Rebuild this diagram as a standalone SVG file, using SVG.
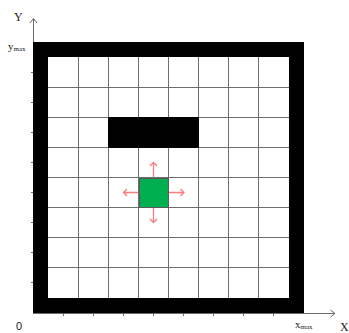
<svg xmlns="http://www.w3.org/2000/svg" width="349" height="333" viewBox="0 0 349 333">
<defs>
<style>
.grid{stroke:#6e6e6e;stroke-width:1;fill:none}
.axis{stroke:#6a6a6a;stroke-width:1;fill:none}
.tick{stroke:#6a6a6a;stroke-width:1}
.mv{stroke:#ff7b7b;stroke-width:1.3;fill:none}
.lbl{font-family:"Liberation Serif",serif;fill:#222}
</style>
</defs>
<rect width="349" height="333" fill="#fff"/>
<g id="axes">
<line class="axis" x1="33.5" y1="313" x2="33.5" y2="18.5"/>
<polyline class="axis" points="30,23 33.5,18.5 37,23"/>
<line class="axis" x1="33" y1="313.5" x2="335" y2="313.5"/>
<polyline class="axis" points="330.5,310 335,313.5 330.5,317"/>
<g class="tick">
<line x1="63.5" y1="313" x2="63.5" y2="316"/><line x1="93.5" y1="313" x2="93.5" y2="316"/>
<line x1="123.5" y1="313" x2="123.5" y2="316"/><line x1="153.5" y1="313" x2="153.5" y2="316"/>
<line x1="183.5" y1="313" x2="183.5" y2="316"/><line x1="213.5" y1="313" x2="213.5" y2="316"/>
<line x1="243.5" y1="313" x2="243.5" y2="316"/><line x1="273.5" y1="313" x2="273.5" y2="316"/>
<line x1="31" y1="72.5" x2="34" y2="72.5"/><line x1="31" y1="102.5" x2="34" y2="102.5"/>
<line x1="31" y1="132.5" x2="34" y2="132.5"/><line x1="31" y1="162.5" x2="34" y2="162.5"/>
<line x1="31" y1="192.5" x2="34" y2="192.5"/><line x1="31" y1="222.5" x2="34" y2="222.5"/>
<line x1="31" y1="252.5" x2="34" y2="252.5"/><line x1="31" y1="282.5" x2="34" y2="282.5"/>
</g>
</g>
<g id="labels">
<text class="lbl" x="14" y="21" font-size="12">Y</text>
<text class="lbl" x="8" y="50" font-size="11">y<tspan font-size="7" dy="1">max</tspan></text>
<text x="16" y="330" font-size="11" font-family="Liberation Sans, sans-serif" fill="#222">0</text>
<text class="lbl" x="295" y="328" font-size="11">x<tspan font-size="7" dy="1">max</tspan></text>
<text class="lbl" x="340" y="331" font-size="12">X</text>
</g>
<g id="wall">
<path d="M33,42H304V313H33Z M48,57V298H289V57Z" fill="#000" fill-rule="evenodd"/>
</g>
<g id="grid" class="grid">
<line x1="78.5" y1="57" x2="78.5" y2="298"/><line x1="108.5" y1="57" x2="108.5" y2="298"/>
<line x1="138.5" y1="57" x2="138.5" y2="298"/><line x1="168.5" y1="57" x2="168.5" y2="298"/>
<line x1="198.5" y1="57" x2="198.5" y2="298"/><line x1="228.5" y1="57" x2="228.5" y2="298"/>
<line x1="258.5" y1="57" x2="258.5" y2="298"/>
<line x1="48" y1="87.5" x2="289" y2="87.5"/><line x1="48" y1="117.5" x2="289" y2="117.5"/>
<line x1="48" y1="147.5" x2="289" y2="147.5"/><line x1="48" y1="177.5" x2="289" y2="177.5"/>
<line x1="48" y1="207.5" x2="289" y2="207.5"/><line x1="48" y1="237.5" x2="289" y2="237.5"/>
<line x1="48" y1="267.5" x2="289" y2="267.5"/>
</g>
<g id="obstacle">
<rect x="108" y="117" width="91" height="31" fill="#000"/>
</g>
<g id="robot">
<rect x="139.5" y="178.5" width="29" height="29" fill="#00b050" stroke="#5a5a5a" stroke-width="1"/>
</g>
<g id="moves">
<path class="mv" d="M153.5,177V162.5M150,166L153.5,162.5L157,166"/>
<path class="mv" d="M153.5,208V222.5M150,219L153.5,222.5L157,219"/>
<path class="mv" d="M138,192.5H123.5M127,189L123.5,192.5L127,196"/>
<path class="mv" d="M169,192.5H184M180.5,189L184,192.5L180.5,196"/>
</g>
</svg>
